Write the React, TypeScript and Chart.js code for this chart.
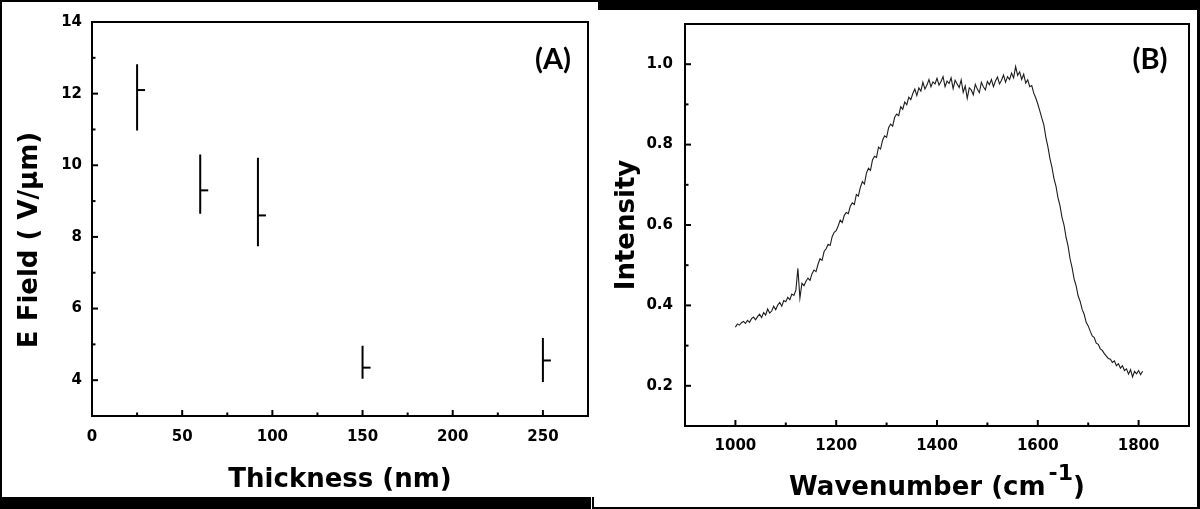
import React, { useEffect, useRef } from "react";
import { Chart, registerables } from "chart.js";

Chart.register(...registerables);

// ---------- Panel (A): E field vs thickness ----------
const thicknessNm = [25, 60, 92, 150, 250];
const eFieldMean = [12.1, 9.3, 8.6, 4.35, 4.55];
const eFieldLow = [10.97, 8.65, 7.74, 4.04, 3.95];
const eFieldHigh = [12.82, 10.3, 10.21, 4.96, 5.18];

const thicknessTickLabels = [0, 50, 100, 150, 200, 250];
const eFieldTickLabels = [4, 6, 8, 10, 12, 14];

// ---------- Panel (B): spectrum ----------
const wavenumber = [
  1000, 1004, 1008, 1012, 1016, 1020, 1024, 1028, 1032, 1036, 1040, 1044, 1048, 1052, 1056, 1060, 1064, 1068, 1072, 1076, 1080, 1084, 1088, 1092, 1096, 1100,
  1104, 1108, 1112, 1116, 1120, 1124, 1128, 1132, 1136, 1140, 1144, 1148, 1152, 1156, 1160, 1164, 1168, 1172, 1176, 1180, 1184, 1188, 1192, 1196, 1200,
  1204, 1208, 1212, 1216, 1220, 1224, 1228, 1232, 1236, 1240, 1244, 1248, 1252, 1256, 1260, 1264, 1268, 1272, 1276, 1280, 1284, 1288, 1292, 1296, 1300,
  1304, 1308, 1312, 1316, 1320, 1324, 1328, 1332, 1336, 1340, 1344, 1348, 1352, 1356, 1360, 1364, 1368, 1372, 1376, 1380, 1384, 1388, 1392, 1396, 1400,
  1404, 1408, 1412, 1416, 1420, 1424, 1428, 1432, 1436, 1440, 1444, 1448, 1452, 1456, 1460, 1464, 1468, 1472, 1476, 1480, 1484, 1488, 1492, 1496, 1500,
  1504, 1508, 1512, 1516, 1520, 1524, 1528, 1532, 1536, 1540, 1544, 1548, 1552, 1556, 1560, 1564, 1568, 1572, 1576, 1580, 1584, 1588, 1592, 1596, 1600,
  1604, 1608, 1612, 1616, 1620, 1624, 1628, 1632, 1636, 1640, 1644, 1648, 1652, 1656, 1660, 1664, 1668, 1672, 1676, 1680, 1684, 1688, 1692, 1696, 1700,
  1704, 1708, 1712, 1716, 1720, 1724, 1728, 1732, 1736, 1740, 1744, 1748, 1752, 1756, 1760, 1764, 1768, 1772, 1776, 1780, 1784, 1788, 1792, 1796, 1800, 1804, 1808,
];
const intensity = [
  0.346, 0.354, 0.351, 0.357, 0.360, 0.355, 0.363, 0.358, 0.367, 0.371, 0.364, 0.372, 0.378, 0.370, 0.382, 0.376, 0.391, 0.381, 0.386, 0.398, 0.389, 0.401, 0.407, 0.398, 0.412, 0.409,
  0.420, 0.414, 0.428, 0.425, 0.438, 0.492, 0.418, 0.455, 0.449, 0.460, 0.468, 0.462, 0.479, 0.488, 0.484, 0.503, 0.516, 0.512, 0.534, 0.541, 0.552, 0.549, 0.571, 0.582, 0.586,
  0.598, 0.612, 0.606, 0.624, 0.631, 0.628, 0.647, 0.655, 0.651, 0.676, 0.672, 0.694, 0.708, 0.702, 0.729, 0.741, 0.736, 0.762, 0.771, 0.768, 0.794, 0.789, 0.811, 0.822, 0.818,
  0.842, 0.851, 0.846, 0.868, 0.876, 0.872, 0.894, 0.888, 0.906, 0.899, 0.918, 0.912, 0.927, 0.938, 0.922, 0.941, 0.933, 0.955, 0.938, 0.948, 0.962, 0.944, 0.956, 0.951, 0.965,
  0.948, 0.957, 0.969, 0.944, 0.958, 0.952, 0.966, 0.939, 0.960, 0.951, 0.942, 0.961, 0.930, 0.946, 0.915, 0.941, 0.936, 0.924, 0.950, 0.938, 0.929, 0.955, 0.944, 0.936, 0.957,
  0.949, 0.962, 0.944, 0.958, 0.968, 0.951, 0.960, 0.973, 0.955, 0.969, 0.962, 0.978, 0.966, 0.994, 0.972, 0.981, 0.962, 0.975, 0.953, 0.961, 0.944, 0.947, 0.928, 0.916, 0.901,
  0.884, 0.866, 0.849, 0.818, 0.795, 0.766, 0.744, 0.716, 0.697, 0.668, 0.648, 0.619, 0.600, 0.570, 0.548, 0.516, 0.494, 0.466, 0.449, 0.424, 0.410, 0.390, 0.378, 0.358, 0.349,
  0.336, 0.324, 0.320, 0.306, 0.303, 0.292, 0.288, 0.280, 0.274, 0.268, 0.266, 0.258, 0.262, 0.250, 0.255, 0.244, 0.250, 0.238, 0.242, 0.229, 0.240, 0.222, 0.236, 0.230, 0.238, 0.228, 0.236,
];

const wavenumberTickLabels = [1000, 1200, 1400, 1600, 1800];
const intensityTickLabels = [0.2, 0.4, 0.6, 0.8, 1.0];

// ---------- helpers ----------
const isIn = (list: number[], v: number) => list.some((x) => Math.abs(x - v) < 1e-6);
const TICK_FONT = { family: '"DejaVu Sans", sans-serif', size: 15, weight: "bold" as const };
const TITLE_FONT = 'bold 26px "DejaVu Sans", sans-serif';

function makeDecor(xMajor: number[], yMajor: number[], drawText: (ctx: CanvasRenderingContext2D, a: any) => void) {
  return {
    id: "decor",
    afterDraw(chart: any) {
      const { ctx, chartArea: a } = chart;
      const xs = chart.scales.x;
      const ys = chart.scales.y;
      ctx.save();
      ctx.strokeStyle = "#000";
      ctx.lineWidth = 2;
      ctx.strokeRect(a.left, a.top, a.right - a.left, a.bottom - a.top);
      xs.ticks.forEach((t: any) => {
        const len = isIn(xMajor, t.value) ? 6 : 3.5;
        const p = xs.getPixelForValue(t.value);
        ctx.beginPath();
        ctx.moveTo(p, a.bottom);
        ctx.lineTo(p, a.bottom - len);
        ctx.stroke();
      });
      ys.ticks.forEach((t: any) => {
        const len = isIn(yMajor, t.value) ? 6 : 3.5;
        const p = ys.getPixelForValue(t.value);
        ctx.beginPath();
        ctx.moveTo(a.left, p);
        ctx.lineTo(a.left + len, p);
        ctx.stroke();
      });
      ctx.fillStyle = "#000";
      drawText(ctx, a);
      ctx.restore();
    },
  };
}

export default function App() {
  const leftRef = useRef<HTMLCanvasElement>(null);
  const rightRef = useRef<HTMLCanvasElement>(null);

  useEffect(() => {
    // ---- Panel A ----
    const errorBarPoints: any[] = [];
    thicknessNm.forEach((t, i) => {
      errorBarPoints.push({ x: t, y: eFieldLow[i] });
      errorBarPoints.push({ x: t, y: eFieldHigh[i] });
      errorBarPoints.push({ x: t, y: null });
    });
    const meanPoints = thicknessNm.map((t, i) => ({ x: t, y: eFieldMean[i] }));

    const decorA = makeDecor(thicknessTickLabels, eFieldTickLabels, (ctx, a) => {
      ctx.font = TITLE_FONT;
      ctx.textAlign = "center";
      ctx.textBaseline = "alphabetic";
      ctx.fillText("Thickness (nm)", (a.left + a.right) / 2, 487);
      ctx.save();
      ctx.translate(37, 240);
      ctx.rotate(-Math.PI / 2);
      ctx.fillText("E Field ( V/\u03bcm)", 0, 0);
      ctx.restore();
      ctx.font = "bold 29px Lato, sans-serif";
      ctx.textBaseline = "middle";
      ctx.fillText("(A)", 553, 60);
    });

    const chartA = new Chart(leftRef.current as HTMLCanvasElement, {
      type: "scatter",
      data: {
        datasets: [
          {
            type: "line",
            data: errorBarPoints,
            borderColor: "#000",
            borderWidth: 2,
            pointRadius: 0,
            spanGaps: false,
            fill: false,
          } as any,
          {
            type: "scatter",
            data: meanPoints,
            pointStyle: "dash",
            pointRadius: 8,
            borderColor: "#000",
            backgroundColor: "#000",
            borderWidth: 2,
          } as any,
        ],
      },
      options: {
        animation: false,
        responsive: false,
        devicePixelRatio: 1,
        layout: { padding: { top: 22, right: 6, left: 0, bottom: 0 } },
        plugins: { legend: { display: false }, tooltip: { enabled: false } },
        scales: {
          x: {
            type: "linear",
            min: 0,
            max: 275,
            afterFit: (s: any) => {
              s.height = 93;
            },
            grid: { display: false, drawTicks: false },
            border: { display: false },
            ticks: {
              stepSize: 25,
              autoSkip: false,
              maxRotation: 0,
              padding: 12,
              color: "#000",
              font: TICK_FONT,
              callback: (v: any) => (isIn(thicknessTickLabels, Number(v)) ? String(v) : ""),
            },
          },
          y: {
            type: "linear",
            min: 3,
            max: 14,
            afterFit: (s: any) => {
              s.width = 92;
            },
            grid: { display: false, drawTicks: false },
            border: { display: false },
            ticks: {
              stepSize: 1,
              autoSkip: false,
              padding: 10,
              color: "#000",
              font: TICK_FONT,
              callback: (v: any) => (isIn(eFieldTickLabels, Number(v)) ? String(v) : ""),
            },
          },
        },
      } as any,
      plugins: [decorA as any],
    });

    // ---- Panel B ----
    const spectrum = wavenumber.map((w, i) => ({ x: w, y: intensity[i] }));
    const decorB = makeDecor(wavenumberTickLabels, intensityTickLabels, (ctx, a) => {
      ctx.font = TITLE_FONT;
      ctx.textBaseline = "alphabetic";
      const t1 = "Wavenumber (cm";
      const t2 = "-1";
      const t3 = ")";
      const w1 = ctx.measureText(t1).width;
      const w3 = ctx.measureText(t3).width;
      ctx.font = 'bold 22px "DejaVu Sans", sans-serif';
      const w2 = ctx.measureText(t2).width;
      const gap = 3;
      const total = w1 + gap + w2 + w3;
      let x0 = (a.left + a.right) / 2 - total / 2;
      ctx.textAlign = "left";
      ctx.font = TITLE_FONT;
      ctx.fillText(t1, x0, 495);
      x0 += w1 + gap;
      ctx.font = 'bold 22px "DejaVu Sans", sans-serif';
      ctx.fillText(t2, x0, 480);
      x0 += w2;
      ctx.font = TITLE_FONT;
      ctx.fillText(t3, x0, 495);

      ctx.textAlign = "center";
      ctx.save();
      ctx.translate(38, 225);
      ctx.rotate(-Math.PI / 2);
      ctx.fillText("Intensity", 0, 0);
      ctx.restore();
      ctx.font = "bold 29px Lato, sans-serif";
      ctx.textBaseline = "middle";
      ctx.fillText("(B)", 554, 60);
    });

    const chartB = new Chart(rightRef.current as HTMLCanvasElement, {
      type: "scatter",
      data: {
        datasets: [
          {
            data: spectrum,
            showLine: true,
            borderColor: "#1c1c1c",
            borderWidth: 1.1,
            pointRadius: 0,
            fill: false,
          } as any,
        ],
      },
      options: {
        animation: false,
        responsive: false,
        devicePixelRatio: 1,
        layout: { padding: { top: 24, right: 7, left: 0, bottom: 0 } },
        plugins: { legend: { display: false }, tooltip: { enabled: false } },
        scales: {
          x: {
            type: "linear",
            min: 900,
            max: 1900,
            afterFit: (s: any) => {
              s.height = 83;
            },
            grid: { display: false, drawTicks: false },
            border: { display: false },
            ticks: {
              stepSize: 100,
              autoSkip: false,
              maxRotation: 0,
              padding: 11,
              color: "#000",
              font: TICK_FONT,
              callback: (v: any) => (isIn(wavenumberTickLabels, Number(v)) ? String(v) : ""),
            },
          },
          y: {
            type: "linear",
            min: 0.1,
            max: 1.1,
            afterFit: (s: any) => {
              s.width = 89;
            },
            grid: { display: false, drawTicks: false },
            border: { display: false },
            ticks: {
              stepSize: 0.1,
              autoSkip: false,
              padding: 12,
              color: "#000",
              font: TICK_FONT,
              callback: (v: any) => (isIn(intensityTickLabels, Number(v)) ? Number(v).toFixed(1) : ""),
            },
          },
        },
      } as any,
      plugins: [decorB as any],
    });

    return () => {
      chartA.destroy();
      chartB.destroy();
    };
  }, []);

  const bands: [number, number, number, number][] = [
    [0, 0, 598, 2],
    [0, 0, 2, 509],
    [0, 497, 591, 12],
    [598, 0, 602, 10],
    [1197, 0, 3, 509],
    [592, 507, 608, 2],
    [592, 497, 2, 12],
  ];

  return (
    <div
      style={{
        position: "fixed",
        left: 0,
        top: 0,
        width: 1200,
        height: 509,
        background: "#fff",
        overflow: "hidden",
      }}
    >
      <canvas
        ref={leftRef}
        width={600}
        height={509}
        style={{ position: "absolute", left: 0, top: 0, width: 600, height: 509 }}
      />
      <canvas
        ref={rightRef}
        width={604}
        height={509}
        style={{ position: "absolute", left: 596, top: 0, width: 604, height: 509 }}
      />
      {bands.map(([l, t, w, h], i) => (
        <div
          key={i}
          style={{ position: "absolute", left: l, top: t, width: w, height: h, background: "#000" }}
        />
      ))}
    </div>
  );
}
